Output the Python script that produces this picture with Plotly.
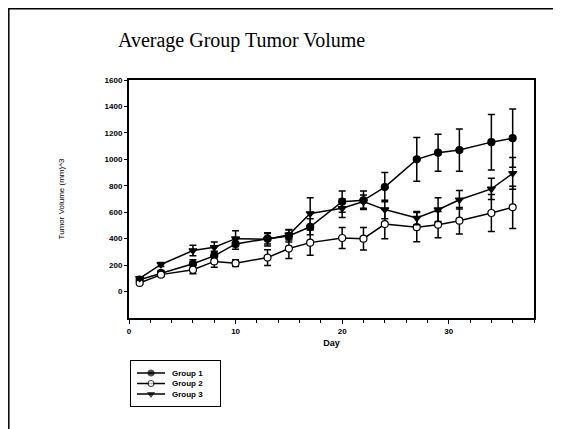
import plotly.graph_objects as go

days = [1, 3, 6, 8, 10, 13, 15, 17, 20, 22, 24, 27, 29, 31, 34, 36]
group1 = [90, 140, 210, 270, 360, 400, 420, 490, 680, 690, 790, 1000, 1050, 1070, 1130, 1160]
group2 = [65, 128, 165, 228, 215, 257, 325, 370, 405, 400, 510, 487, 506, 536, 594, 637]
group3 = [100, 205, 310, 335, 400, 395, 430, 590, 630, 680, 620, 556, 619, 694, 776, 894]
err1 = [15, 20, 30, 35, 40, 40, 45, 60, 80, 70, 110, 165, 140, 160, 210, 220]
err2 = [10, 15, 30, 45, 25, 60, 75, 95, 80, 85, 110, 110, 100, 100, 140, 160]
err3 = [10, 15, 40, 40, 60, 50, 40, 120, 70, 50, 70, 50, 90, 70, 80, 120]
y_ticks = [0, 200, 400, 600, 800, 1000, 1200, 1400, 1600]
x_ticks = [0, 10, 20, 30]
group_names = ["Group 1", "Group 2", "Group 3"]

# page has an 8px body margin; figure fills the rest of the 561x429 window
OFF = 8
W, H = 561 - OFF, 429 - OFF
def px_x(p):
    return (p - OFF) / W
def px_y(p):
    return 1 - (p - OFF) / H

styles = [("circle", "black"), ("circle", "white"), ("triangle-down", "black")]
values = [group1, group2, group3]
errors = [err1, err2, err3]

fig = go.Figure()
for name, vals, errs, (sym, fill) in zip(group_names, values, errors, styles):
    fig.add_trace(go.Scatter(
        x=days, y=vals, name=name, mode="lines+markers", showlegend=False,
        line=dict(color="black", width=1.5),
        marker=dict(symbol=sym, size=7, color=fill, line=dict(color="black", width=1.2)),
        error_y=dict(type="data", array=errs, visible=True, color="black", thickness=1.5, width=3.5),
    ))

# compact legend drawn in a small inset axis (legend key samples)
row_gap = 10.5
for i, (name, (sym, fill)) in enumerate(zip(group_names, styles)):
    ry = 12 + i * row_gap
    fig.add_trace(go.Scatter(
        x=[6, 20, 34], y=[ry, ry, ry], xaxis="x2", yaxis="y2", mode="lines+markers",
        showlegend=False, hoverinfo="skip",
        line=dict(color="black", width=1.5),
        marker=dict(symbol=sym, size=[0, 6, 0], color=fill, line=dict(color="black", width=1.2)),
    ))
    fig.add_annotation(x=39, y=ry, xref="x2", yref="y2", text=name, showarrow=False,
                       xanchor="left", yanchor="middle",
                       font=dict(family="Liberation Sans", size=8, color="black", weight="bold"))

tickfont = dict(family="Liberation Sans", size=8, color="black", weight="bold")
fig.update_layout(
    width=W, height=H,
    margin=dict(l=0, r=0, t=0, b=0),
    paper_bgcolor="white", plot_bgcolor="white",
    showlegend=False,
    xaxis=dict(domain=[px_x(129), px_x(534)], range=[0, 38], tickvals=x_ticks,
               ticks="outside", ticklen=4, tickwidth=1, tickcolor="black",
               showline=True, linecolor="black", linewidth=2, mirror=True,
               showgrid=False, zeroline=False, automargin=False,
               minor=dict(dtick=2, tick0=0, ticks="outside", ticklen=3, tickcolor="black", showgrid=False),
               tickfont=tickfont,
               title=dict(text="Day", standoff=5,
                          font=dict(family="Liberation Sans", size=9, color="black", weight="bold"))),
    yaxis=dict(domain=[px_y(318), px_y(80)], range=[-200, 1600], tickvals=y_ticks,
               ticks="outside", ticklen=3, tickwidth=1, tickcolor="black",
               showline=True, linecolor="black", linewidth=2, mirror=True,
               showgrid=False, zeroline=False, automargin=False,
               tickfont=tickfont,
               title=dict(text="Tumor Volume (mm)^3", standoff=39,
                          font=dict(family="Liberation Sans", size=8, color="black"))),
    xaxis2=dict(domain=[px_x(131), px_x(220)], range=[0, 89], anchor="y2",
                showticklabels=False, ticks="", showgrid=False, zeroline=False,
                showline=True, linecolor="black", linewidth=1, mirror=True, fixedrange=True),
    yaxis2=dict(domain=[px_y(406), px_y(361)], range=[45, 0], anchor="x2",
                showticklabels=False, ticks="", showgrid=False, zeroline=False,
                showline=True, linecolor="black", linewidth=1, mirror=True, fixedrange=True),
    annotations=list(fig.layout.annotations) + [
        dict(text="Average Group Tumor Volume", x=px_x(241), y=px_y(40), xref="paper", yref="paper",
             xanchor="center", yanchor="middle", showarrow=False,
             font=dict(family="Liberation Serif", size=20, color="black")),
    ],
    shapes=[dict(type="rect", xref="paper", yref="paper",
                 x0=0.8 / W, x1=px_x(557), y0=-0.05, y1=1 - 0.8 / H,
                 line=dict(color="black", width=1.5))],
)

fig.write_html("out.html")
